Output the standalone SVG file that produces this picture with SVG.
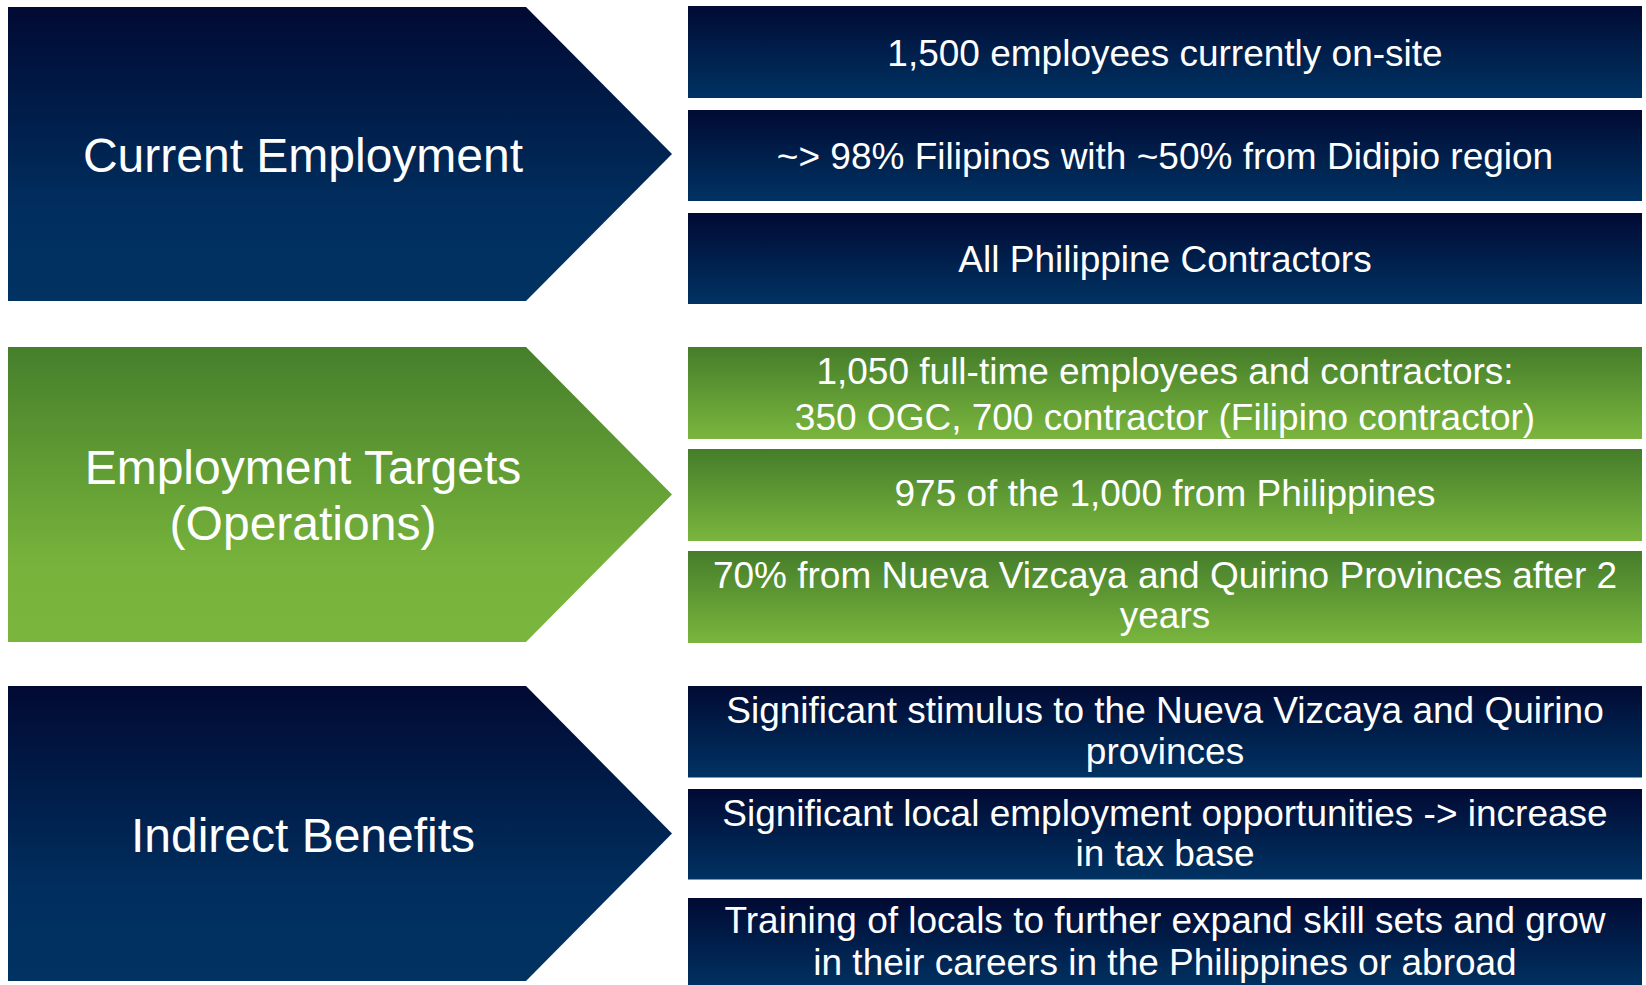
<svg xmlns="http://www.w3.org/2000/svg" width="1646" height="985" viewBox="0 0 1646 985">
  <defs>
    <linearGradient id="navyChevron" x1="0" y1="0" x2="0" y2="1">
      <stop offset="0" stop-color="#010a33"/>
      <stop offset="0.7" stop-color="#002f5f"/>
      <stop offset="1" stop-color="#003262"/>
    </linearGradient>
    <linearGradient id="navyBox" x1="0" y1="0" x2="0" y2="1">
      <stop offset="0" stop-color="#010a33"/>
      <stop offset="1" stop-color="#003363"/>
    </linearGradient>
    <linearGradient id="greenChevron" x1="0" y1="0" x2="0" y2="1">
      <stop offset="0" stop-color="#467f2b"/>
      <stop offset="0.75" stop-color="#78b43c"/>
      <stop offset="1" stop-color="#7ab63e"/>
    </linearGradient>
    <linearGradient id="greenBox" x1="0" y1="0" x2="0" y2="1">
      <stop offset="0" stop-color="#457d2a"/>
      <stop offset="1" stop-color="#7ab63e"/>
    </linearGradient>
  </defs>
  <style>
    text { font-family: "Liberation Sans", Arial, sans-serif; fill: #ffffff; text-anchor: middle; }
    .head { font-size: 48px; }
    .item { font-size: 37px; }
    .navy-c { fill: url(#navyChevron); }
    .navy-b { fill: url(#navyBox); }
    .green-c { fill: url(#greenChevron); }
    .green-b { fill: url(#greenBox); }
  </style>
  <rect width="1646" height="985" fill="#ffffff"/>

  <!-- Section 1: current employment -->
  <g id="current-employment">
    <polygon class="navy-c" points="8,7 526,7 672,154 526,301 8,301"/>
    <text class="head" x="303" y="172">Current Employment</text>
  </g>
  <g id="onsite">
    <rect class="navy-b" x="688" y="6" width="954" height="92"/>
    <text class="item" x="1165" y="66">1,500 employees currently on-site</text>
  </g>
  <g id="filipinos">
    <rect class="navy-b" x="688" y="110" width="954" height="91"/>
    <text class="item" x="1165" y="169">~&gt; 98% Filipinos with ~50% from Didipio region</text>
  </g>
  <g id="contractors">
    <rect class="navy-b" x="688" y="213" width="954" height="91"/>
    <text class="item" x="1165" y="272">All Philippine Contractors</text>
  </g>

  <!-- Section 2: employment targets -->
  <g id="employment-targets">
    <polygon class="green-c" points="8,347 526,347 672,494.5 526,642 8,642"/>
    <text class="head" x="303" y="484">Employment Targets</text>
    <text class="head" x="303" y="540">(Operations)</text>
  </g>
  <g id="fulltime">
    <rect class="green-b" x="688" y="347" width="954" height="92"/>
    <text class="item" x="1165" y="384">1,050 full-time employees and contractors:</text>
    <text class="item" x="1165" y="429.5">350 OGC, 700 contractor (Filipino contractor)</text>
  </g>
  <g id="from-philippines">
    <rect class="green-b" x="688" y="449" width="954" height="92"/>
    <text class="item" x="1165" y="506">975 of the 1,000 from Philippines</text>
  </g>
  <g id="provinces-share">
    <rect class="green-b" x="688" y="551" width="954" height="92"/>
    <text class="item" x="1165" y="587.5">70% from Nueva Vizcaya and Quirino Provinces after 2</text>
    <text class="item" x="1165" y="628">years</text>
  </g>

  <!-- Section 3: indirect benefits -->
  <g id="indirect-benefits">
    <polygon class="navy-c" points="8,686 526,686 672,833.5 526,981 8,981"/>
    <text class="head" x="303" y="851.5">Indirect Benefits</text>
  </g>
  <g id="stimulus">
    <rect class="navy-b" x="688" y="686" width="954" height="91.5"/>
    <text class="item" x="1165" y="723">Significant stimulus to the Nueva Vizcaya and Quirino</text>
    <text class="item" x="1165" y="763.5">provinces</text>
  </g>
  <g id="local-jobs">
    <rect class="navy-b" x="688" y="789" width="954" height="90.5"/>
    <text class="item" x="1165" y="825.5">Significant local employment opportunities -&gt; increase</text>
    <text class="item" x="1165" y="866">in tax base</text>
  </g>
  <g id="training">
    <rect class="navy-b" x="688" y="898" width="954" height="92"/>
    <text class="item" x="1165" y="933">Training of locals to further expand skill sets and grow</text>
    <text class="item" x="1165" y="975">in their careers in the Philippines or abroad</text>
  </g>
</svg>
